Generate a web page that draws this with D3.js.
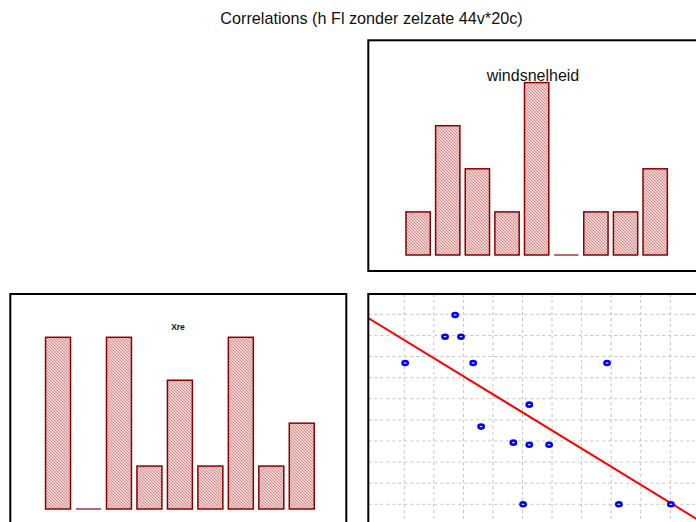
<!DOCTYPE html>
<html>
<head>
<meta charset="utf-8">
<script src="https://cdn.jsdelivr.net/npm/d3@7"></script>
<style>
	body { margin: 0; background: #fff; }
	svg { display: block; }
</style>
</head>
<body>
<script>
// histogram bins and counts
const binLabels = ["1", "2", "3", "4", "5", "6", "7", "8", "9"];
const windCounts = [1, 3, 2, 1, 4, 0, 1, 1, 2];
const xreCounts = [4, 0, 4, 1, 3, 1, 4, 1, 2];

// scatter values (grid units)
const scatterX = [2.72, 2.38, 2.92, 1.03, 3.33, 7.86, 5.23, 3.60, 4.69, 5.23, 5.90, 5.02, 8.26, 10.02];
const scatterY = [8.97, 7.94, 7.94, 6.69, 6.69, 6.69, 4.72, 3.68, 2.92, 2.82, 2.82, 0, 0, 0];
const gridX = [1, 2, 3, 4, 5, 6, 7, 8, 9, 10];
const gridY = [0, 1, 2, 3, 4, 5, 6, 7, 8, 9];
const fitIntercept = 8.64;
const fitSlope = -0.857;

const W = 696, H = 522;

const svg = d3.select("body")
	.append("svg")
	.attr("width", W)
	.attr("height", H);

const defs = svg.append("defs");

// hatch fill for the bars
const hatch = defs.append("pattern")
	.attr("id", "hatch")
	.attr("patternUnits", "userSpaceOnUse")
	.attr("width", 3)
	.attr("height", 3);
hatch.append("rect")
	.attr("width", 3)
	.attr("height", 3)
	.attr("fill", "#fbeeee");
hatch.append("path")
	.attr("d", "M-1,-1L4,4M2,-1L4,1M-1,2L1,4")
	.attr("stroke", "#cf8585")
	.attr("stroke-width", 1.1);

// title
svg.append("text")
	.attr("x", 371.5)
	.attr("y", 24)
	.attr("text-anchor", "middle")
	.attr("font-family", "Liberation Sans, Arial, sans-serif")
	.attr("font-size", "16.2px")
	.attr("fill", "#111")
	.text("Correlations (h Fl zonder zelzate 44v*20c)");

function drawHist(counts, range, yRange, label, labelOpts) {
	const x = d3.scaleBand()
		.domain(binLabels)
		.range(range)
		.paddingInner(0.18)
		.paddingOuter(0.09);
	const y = d3.scaleLinear()
		.domain([0, 4])
		.range(yRange);

	const g = svg.append("g");
	const data = counts.map((d, i) => ({ bin: binLabels[i], n: d }));

	g.selectAll("rect")
		.data(data.filter(d => d.n > 0))
		.enter()
		.append("rect")
		.attr("x", d => x(d.bin))
		.attr("y", d => y(d.n))
		.attr("width", x.bandwidth())
		.attr("height", d => y(0) - y(d.n))
		.attr("fill", "url(#hatch)")
		.attr("stroke", "#8b0000")
		.attr("stroke-width", 1.5);

	// empty bins show as a flat line on the base
	g.selectAll("line")
		.data(data.filter(d => d.n === 0))
		.enter()
		.append("line")
		.attr("x1", d => x(d.bin))
		.attr("x2", d => x(d.bin) + x.bandwidth())
		.attr("y1", y(0))
		.attr("y2", y(0))
		.attr("stroke", "#b05a5a")
		.attr("stroke-width", 1.8);

	g.append("text")
		.attr("x", labelOpts.x)
		.attr("y", labelOpts.y)
		.attr("text-anchor", "middle")
		.attr("font-family", "Liberation Sans, Arial, sans-serif")
		.attr("font-size", labelOpts.size)
		.attr("font-weight", labelOpts.weight)
		.attr("fill", "#111")
		.text(label);
}

// panel frames
function frame(x, y, w, h) {
	svg.append("rect")
		.attr("x", x)
		.attr("y", y)
		.attr("width", w)
		.attr("height", h)
		.attr("fill", "none")
		.attr("stroke", "#000")
		.attr("stroke-width", 2);
}

// top right: windsnelheid histogram
drawHist(windCounts, [403.3, 670], [255, 82.6], "windsnelheid",
	{ x: 533, y: 81, size: "16px", weight: "normal" });
frame(368.3, 40.3, 400, 230.7);

// bottom left: Xre histogram
drawHist(xreCounts, [42.8, 317], [509, 337.3], "Xre",
	{ x: 178, y: 329.5, size: "8.5px", weight: "bold" });
frame(10.3, 294, 336, 300);

// bottom right: scatter
const sx = d3.scaleLinear().domain([0, 10]).range([374.7, 670.3]);
const sy = d3.scaleLinear().domain([0, 9]).range([504.3, 314.3]);

defs.append("clipPath")
	.attr("id", "scatterClip")
	.append("rect")
	.attr("x", 368.3)
	.attr("y", 294)
	.attr("width", 400)
	.attr("height", 300);

const sc = svg.append("g").attr("clip-path", "url(#scatterClip)");

sc.selectAll(".vgrid")
	.data(gridX)
	.enter()
	.append("line")
	.attr("class", "vgrid")
	.attr("x1", d => sx(d))
	.attr("x2", d => sx(d))
	.attr("y1", 294)
	.attr("y2", H + 10)
	.attr("stroke", "#c4c4c4")
	.attr("stroke-dasharray", "3,3");

sc.selectAll(".hgrid")
	.data(gridY)
	.enter()
	.append("line")
	.attr("class", "hgrid")
	.attr("x1", 368.3)
	.attr("x2", W + 10)
	.attr("y1", d => sy(d))
	.attr("y2", d => sy(d))
	.attr("stroke", "#c4c4c4")
	.attr("stroke-dasharray", "3,3");

// fitted line
const fitX = [-0.5, 11.5];
sc.append("line")
	.attr("x1", sx(fitX[0]))
	.attr("y1", sy(fitIntercept + fitSlope * fitX[0]))
	.attr("x2", sx(fitX[1]))
	.attr("y2", sy(fitIntercept + fitSlope * fitX[1]))
	.attr("stroke", "#f00")
	.attr("stroke-width", 2);

// points
const pts = sc.selectAll(".pt")
	.data(scatterX.map((v, i) => ({ x: v, y: scatterY[i] })))
	.enter()
	.append("g")
	.attr("class", "pt")
	.attr("transform", d => `translate(${sx(d.x)}, ${sy(d.y)})`);
pts.append("ellipse")
	.attr("rx", 3.9)
	.attr("ry", 3.3)
	.attr("fill", "#0000ff");
pts.append("line")
	.attr("x1", -1.3)
	.attr("x2", 1.3)
	.attr("stroke", "#fff")
	.attr("stroke-width", 1);

frame(368.3, 294, 400, 300);
</script>
</body>
</html>
